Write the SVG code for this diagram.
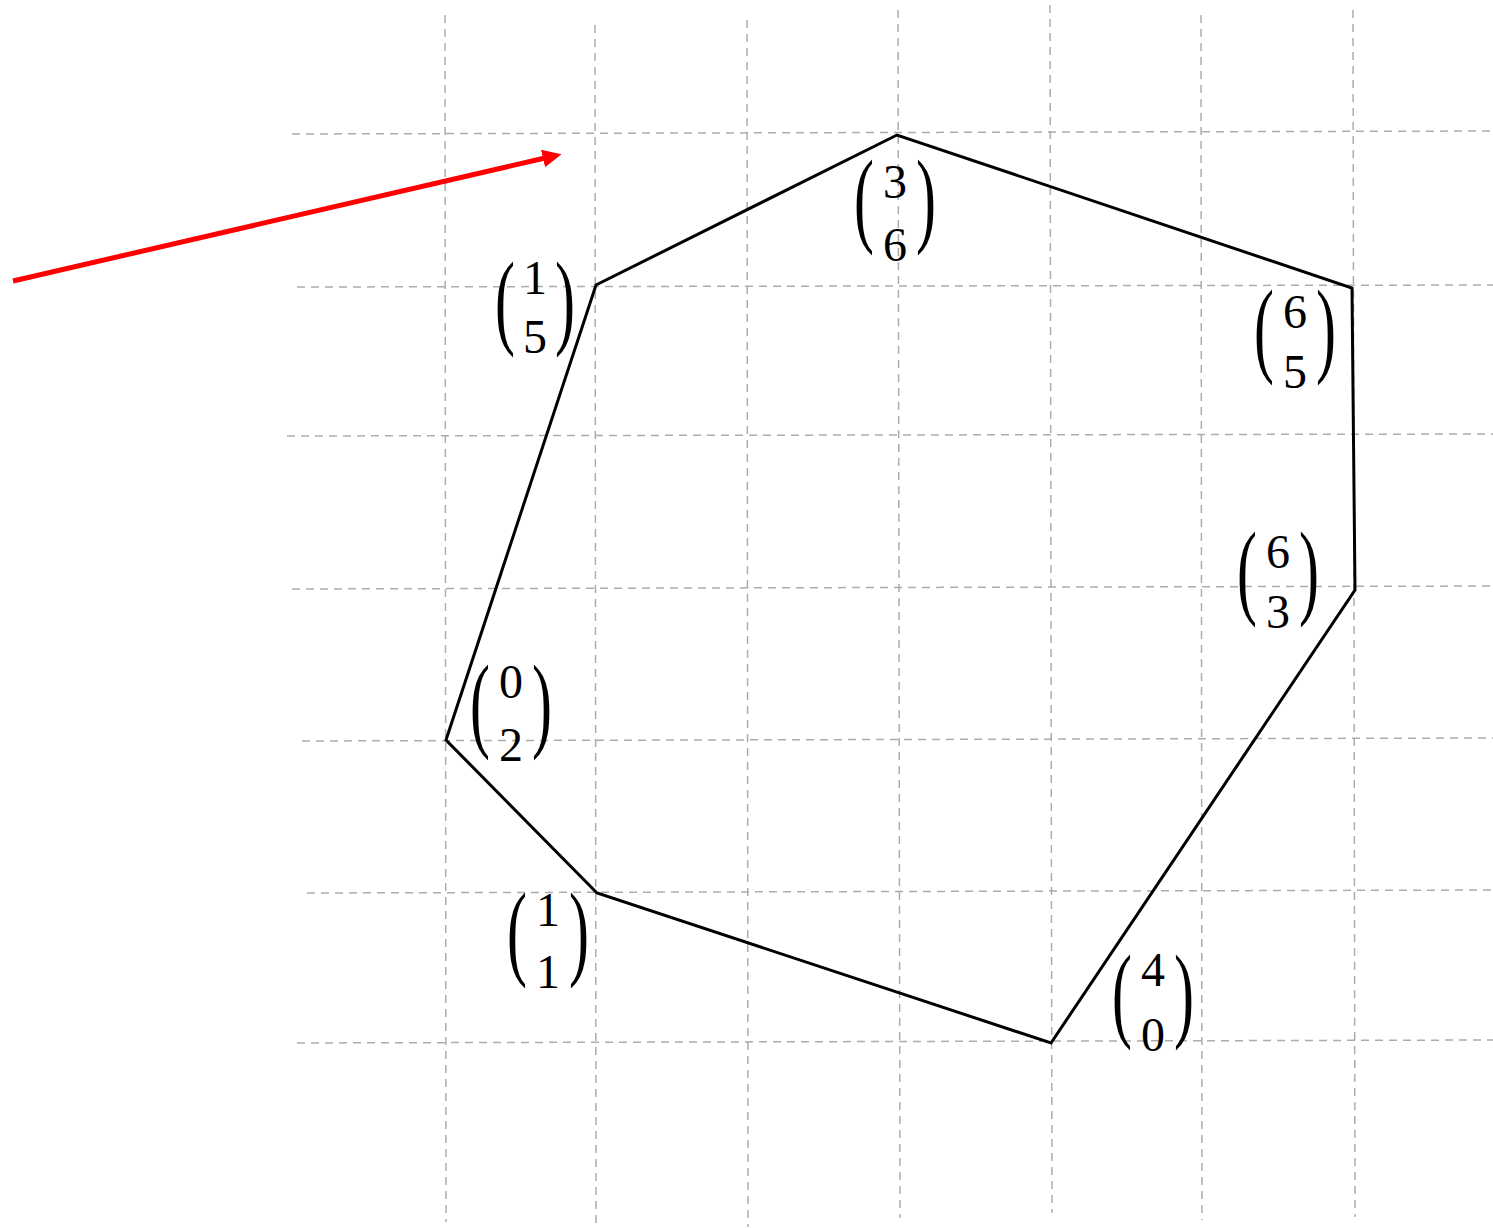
<svg xmlns="http://www.w3.org/2000/svg" width="1493" height="1228" viewBox="0 0 1493 1228">
  <style>
    .grid { stroke: #ababab; stroke-width: 1.5; stroke-dasharray: 8 6; fill: none; }
    .poly { stroke: #000; stroke-width: 3; fill: none; stroke-linejoin: miter; }
    .arrow { stroke: #ff0000; stroke-width: 5; fill: none; }
    .d { font-family: "Liberation Serif", "DejaVu Serif", serif; font-size: 48px; fill: #000; text-anchor: middle; }
    .p { font-family: "Liberation Serif", "DejaVu Serif", serif; font-size: 60px; fill: #000; }
  </style>
  <defs>
    <marker id="ah" markerWidth="19" markerHeight="18" viewBox="0 0 19 18" refX="2" refY="9" orient="auto" markerUnits="userSpaceOnUse">
      <path d="M0,0 L19,9 L0,18 Z" fill="#ff0000"/>
    </marker>
  </defs>
  <rect width="1493" height="1228" fill="#ffffff"/>
  <g id="grid">
    <line class="grid" x1="445" y1="15" x2="446" y2="1222"/>
    <line class="grid" x1="595" y1="25" x2="596" y2="1223"/>
    <line class="grid" x1="747" y1="20" x2="748" y2="1227"/>
    <line class="grid" x1="898" y1="10" x2="900" y2="1218"/>
    <line class="grid" x1="1050" y1="5" x2="1052" y2="1213"/>
    <line class="grid" x1="1201" y1="15" x2="1202" y2="1220"/>
    <line class="grid" x1="1353" y1="10" x2="1355" y2="1217"/>
    <line class="grid" x1="292" y1="134" x2="1490" y2="131"/>
    <line class="grid" x1="297" y1="287" x2="1493" y2="285"/>
    <line class="grid" x1="287" y1="436" x2="1493" y2="434"/>
    <line class="grid" x1="292" y1="589" x2="1493" y2="586"/>
    <line class="grid" x1="302" y1="741" x2="1493" y2="738"/>
    <line class="grid" x1="307" y1="893" x2="1493" y2="890"/>
    <line class="grid" x1="297" y1="1043" x2="1493" y2="1040"/>
  </g>
  <g id="connectors">
    <polygon id="hull" class="poly" points="446,740 596,285 897,135 1352,288 1355,590 1051,1043 597,893"/>
    <line id="red-arrow" class="arrow" x1="13" y1="281" x2="545" y2="158" marker-end="url(#ah)"/>
  </g>
  <g id="label-1-5">
    <text class="p" transform="translate(495,335) scale(1,1.75)">(</text>
    <text class="p" transform="translate(555,335) scale(1,1.75)">)</text>
    <text class="d" x="535" y="294">1</text>
    <text class="d" x="535" y="353">5</text>
  </g>
  <g id="label-3-6">
    <text class="p" transform="translate(854,233) scale(1,1.75)">(</text>
    <text class="p" transform="translate(916,233) scale(1,1.75)">)</text>
    <text class="d" x="895" y="198">3</text>
    <text class="d" x="895" y="261">6</text>
  </g>
  <g id="label-6-5">
    <text class="p" transform="translate(1254,363) scale(1,1.75)">(</text>
    <text class="p" transform="translate(1316,363) scale(1,1.75)">)</text>
    <text class="d" x="1295" y="328">6</text>
    <text class="d" x="1295" y="388">5</text>
  </g>
  <g id="label-6-3">
    <text class="p" transform="translate(1237,605) scale(1,1.75)">(</text>
    <text class="p" transform="translate(1299,605) scale(1,1.75)">)</text>
    <text class="d" x="1278" y="568">6</text>
    <text class="d" x="1278" y="628">3</text>
  </g>
  <g id="label-0-2">
    <text class="p" transform="translate(470,738) scale(1,1.75)">(</text>
    <text class="p" transform="translate(532,738) scale(1,1.75)">)</text>
    <text class="d" x="511" y="698">0</text>
    <text class="d" x="511" y="761">2</text>
  </g>
  <g id="label-1-1">
    <text class="p" transform="translate(507,966) scale(1,1.75)">(</text>
    <text class="p" transform="translate(569,966) scale(1,1.75)">)</text>
    <text class="d" x="548" y="926">1</text>
    <text class="d" x="548" y="988">1</text>
  </g>
  <g id="label-4-0">
    <text class="p" transform="translate(1112,1028) scale(1,1.75)">(</text>
    <text class="p" transform="translate(1174,1028) scale(1,1.75)">)</text>
    <text class="d" x="1153" y="986">4</text>
    <text class="d" x="1153" y="1051">0</text>
  </g>
</svg>
